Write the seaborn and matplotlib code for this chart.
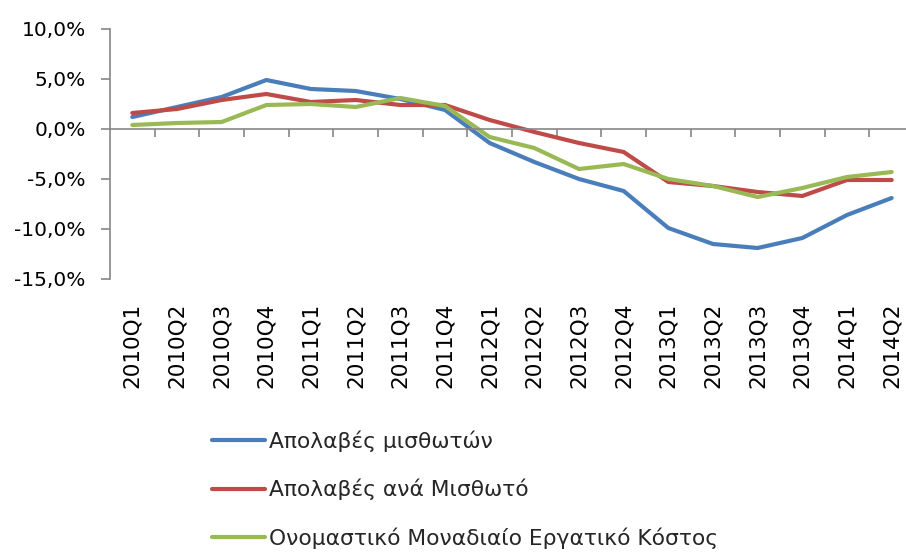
import matplotlib
matplotlib.use("Agg")
import matplotlib.pyplot as plt
from matplotlib.lines import Line2D
import numpy as np
import pandas as pd
import seaborn as sns

quarters = ["2010Q1", "2010Q2", "2010Q3", "2010Q4", "2011Q1", "2011Q2", "2011Q3", "2011Q4",
            "2012Q1", "2012Q2", "2012Q3", "2012Q4", "2013Q1", "2013Q2", "2013Q3", "2013Q4",
            "2014Q1", "2014Q2"]
comp_employees = [1.2, 2.2, 3.2, 4.9, 4.0, 3.8, 3.0, 1.9, -1.4, -3.3, -5.0, -6.2, -9.9, -11.5, -11.9, -10.9, -8.6, -6.9]
comp_per_employee = [1.6, 2.0, 2.9, 3.5, 2.7, 2.9, 2.4, 2.4, 0.9, -0.3, -1.4, -2.3, -5.3, -5.7, -6.3, -6.7, -5.1, -5.1]
unit_labour_cost = [0.4, 0.6, 0.7, 2.4, 2.5, 2.2, 3.1, 2.3, -0.8, -1.9, -4.0, -3.5, -5.0, -5.7, -6.8, -5.9, -4.8, -4.3]
series_names = ["Απολαβές μισθωτών", "Απολαβές ανά Μισθωτό", "Ονομαστικό Μοναδιαίο Εργατικό Κόστος"]
colors = ["#4A7EBB", "#BE4B48", "#98B954"]
y_ticks = [-15, -10, -5, 0, 5, 10]
y_tick_labels = ["-15,0%", "-10,0%", "-5,0%", "0,0%", "5,0%", "10,0%"]

sns.set_theme(style="white")
plt.rcParams['font.family'] = ['DejaVu Sans']

df = pd.DataFrame({
    "quarter": quarters * 3,
    "value": comp_employees + comp_per_employee + unit_labour_cost,
    "series": [series_names[0]] * len(quarters) + [series_names[1]] * len(quarters) + [series_names[2]] * len(quarters),
})

fig = plt.figure(figsize=(9.06, 5.52), dpi=100)
ax = fig.add_axes([110 / 906, (552 - 279) / 552, 804 / 906, 250 / 552])
sns.lineplot(data=df, x="quarter", y="value", hue="series", palette=colors,
             linewidth=3.0, ax=ax, sort=False, legend=False)

ax.set_xlim(-0.5, len(quarters) - 0.5)
ax.set_ylim(-15, 10)
ax.set_xlabel("")
ax.set_ylabel("")

gray = "#868686"
for s in ["top", "right"]:
    ax.spines[s].set_visible(False)
ax.spines["left"].set_color(gray)
ax.spines["left"].set_linewidth(1.2)
ax.spines["bottom"].set_color(gray)
ax.spines["bottom"].set_linewidth(1.2)
ax.spines["bottom"].set_position(("data", 0))

ax.set_yticks(y_ticks)
ax.set_yticklabels(y_tick_labels)
ax.tick_params(axis="y", which="major", direction="out", length=6.5, width=1.2, color=gray,
               pad=11, labelsize=14.5, labelcolor="#000000", left=True)

n = len(quarters)
ax.set_xticks(np.arange(0.5, n - 0.5, 1.0))
ax.set_xticklabels([])
ax.set_xticks(np.arange(n), minor=True)
ax.set_xticklabels(quarters, minor=True, rotation=90, ha="center", va="top")
ax.tick_params(axis="x", which="major", direction="out", length=6, width=1.2, color=gray, bottom=True)
ax.tick_params(axis="x", which="minor", length=0, pad=125, labelsize=15.5, labelcolor="#000000", bottom=True)

handles = [Line2D([0], [0], color=c, linewidth=3.0) for c in colors]
fig.legend(handles, series_names, loc="upper left", bbox_to_anchor=(212 / 906, 1 - 430 / 552),
           frameon=False, fontsize=15.7, handlelength=2.45, handletextpad=0.15, labelspacing=1.25,
           borderaxespad=0, borderpad=0)

fig.savefig("out.png", dpi=100)
